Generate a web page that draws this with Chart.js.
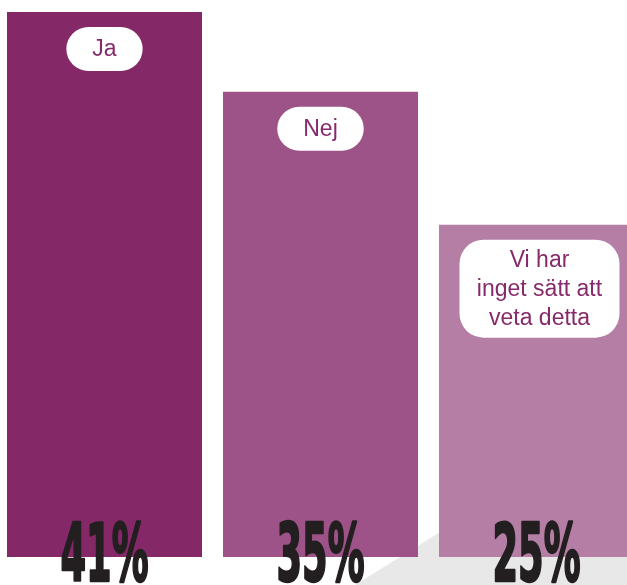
<!DOCTYPE html>
<html>
<head>
<meta charset="utf-8">
<script src="https://cdn.jsdelivr.net/npm/chart.js"></script>
<style>
  html, body { margin: 0; padding: 0; background: #fff; overflow: hidden; }
  #wrap { position: relative; width: 627px; height: 585px; overflow: hidden; }
  #box { position: absolute; left: -12px; top: 0; width: 660px; height: 585px; }
</style>
</head>
<body>
<div id="wrap"><div id="box"><canvas id="c"></canvas></div></div>
<script>
// svar och andelar (%)
const categories = [['Ja'], ['Nej'], ['Vi har', 'inget sätt att', 'veta detta']];
const values = [41, 35, 25];
const valueLabels = ['41%', '35%', '25%'];
const barColors = ['#852868', '#9d5388', '#b57ea5'];

const SHIFT = 12; // canvas is shifted left by this much

// grey diagonal shape behind the last bar
const backdrop = {
  id: 'backdrop',
  beforeDatasetsDraw(chart) {
    const ctx = chart.ctx;
    ctx.save();
    ctx.fillStyle = '#e8e8e8';
    ctx.beginPath();
    ctx.moveTo(355 + SHIFT, 585);
    ctx.lineTo(440 + SHIFT, 532);
    ctx.lineTo(700, 532);
    ctx.lineTo(700, 585);
    ctx.closePath();
    ctx.fill();
    ctx.restore();
  }
};

function roundRect(ctx, x, y, w, h, r) {
  ctx.beginPath();
  ctx.moveTo(x + r, y);
  ctx.arcTo(x + w, y, x + w, y + h, r);
  ctx.arcTo(x + w, y + h, x, y + h, r);
  ctx.arcTo(x, y + h, x, y, r);
  ctx.arcTo(x, y, x + w, y, r);
  ctx.closePath();
}

const labels = {
  id: 'labels',
  afterDatasetsDraw(chart) {
    const ctx = chart.ctx;
    const meta = chart.getDatasetMeta(0);
    ctx.save();
    meta.data.forEach((bar, i) => {
      const lines = categories[i];
      ctx.font = '23px "Liberation Sans", Arial, sans-serif';
      const maxW = Math.max(...lines.map(l => ctx.measureText(l).width));
      const lh = 29;
      const h = lines.length === 1 ? 44 : lines.length * lh + 11;
      const w = lines.length === 1 ? maxW + 52 : bar.width - 35;
      const top = bar.y + 15;
      ctx.fillStyle = '#ffffff';
      roundRect(ctx, bar.x - w / 2 + (lines.length === 1 ? 0 : 3), top, w, h, lines.length === 1 ? h / 2 : 24);
      ctx.fill();
      ctx.fillStyle = '#862a6a';
      ctx.textAlign = 'center';
      ctx.textBaseline = 'middle';
      const tx = bar.x + (lines.length === 1 ? 0 : 3);
      const y0 = top + h / 2 - (lines.length - 1) * lh / 2 + 1;
      lines.forEach((l, k) => ctx.fillText(l, tx, y0 + k * lh));

      // big percentage at the foot
      ctx.save();
      ctx.font = 'bold 81px "Liberation Sans Narrow", "DejaVu Sans Condensed", sans-serif';
      const tw = ctx.measureText('35%').width;
      const sx = 88 / tw;
      ctx.translate(bar.x, 582);
      ctx.scale(sx, 1);
      ctx.fillStyle = '#231f20';
      ctx.strokeStyle = '#231f20';
      ctx.lineWidth = 2.5;
      ctx.lineJoin = 'round';
      ctx.textAlign = 'center';
      ctx.textBaseline = 'alphabetic';
      ctx.fillText(valueLabels[i], 0, -1);
      ctx.strokeText(valueLabels[i], 0, -1);
      ctx.restore();
    });
    ctx.restore();
  }
};

new Chart(document.getElementById('c'), {
  type: 'bar',
  data: {
    labels: categories.map(c => c.join(' ')),
    datasets: [{
      data: values,
      backgroundColor: barColors,
      borderWidth: 0,
      categoryPercentage: 1,
      barPercentage: 195 / 216
    }]
  },
  options: {
    responsive: true,
    maintainAspectRatio: false,
    animation: false,
    layout: { padding: { left: 8.5, right: 3.5, top: 12, bottom: 28 } },
    plugins: { legend: { display: false }, tooltip: { enabled: false } },
    scales: {
      x: { display: false },
      y: { display: false, min: 0, max: 41 }
    }
  },
  plugins: [backdrop, labels]
});
</script>
</body>
</html>
